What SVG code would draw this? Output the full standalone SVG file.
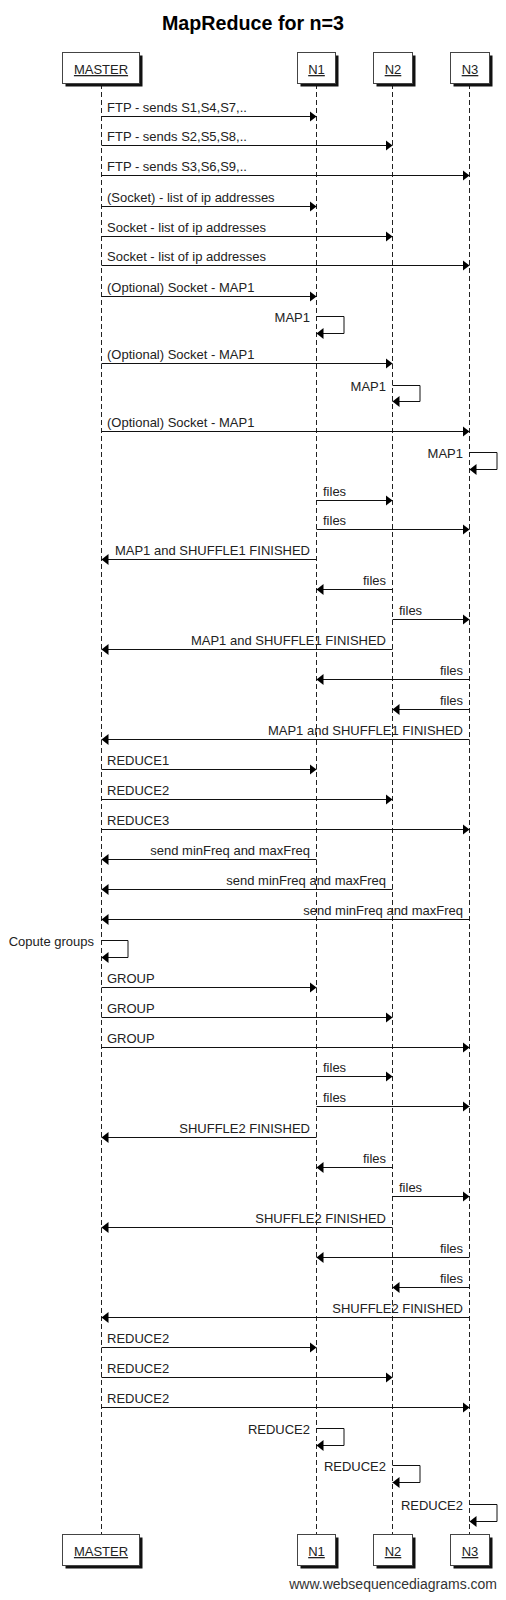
<svg xmlns="http://www.w3.org/2000/svg" width="506" height="1600" viewBox="0 0 506 1600">
<style>
text{font-family:"Liberation Sans",Arial,sans-serif;fill:#222}
.t{font-size:19.7px;font-weight:bold;fill:#000}
.m{font-size:13px}
.e{text-anchor:end}
.p{font-size:13px;text-anchor:middle;text-decoration:underline}
.f{font-size:14px;text-anchor:end;fill:#333}
.life{stroke:#222;stroke-width:1;stroke-dasharray:5,3;fill:none}
.box{fill:#fff;stroke:#444;stroke-width:1}
.sh{fill:#111}
.msg{stroke:#111;stroke-width:1;fill:none;marker-end:url(#ah)}
</style>
<defs>
<marker id="ah" markerUnits="userSpaceOnUse" markerWidth="8" markerHeight="12" refX="7" refY="5.5" orient="auto">
<path d="M0,0 L7,5.5 L0,11 z" fill="#000"/>
</marker>
</defs>
<text class="t" x="253" y="30" text-anchor="middle">MapReduce for n=3</text>
<g id="MASTER">
<line class="life" x1="101.5" y1="84" x2="101.5" y2="1534"/>
<rect class="sh" x="65.5" y="55.5" width="77" height="31"/>
<rect class="box" x="62.5" y="52.5" width="77" height="31"/>
<text class="p" x="101" y="74">MASTER</text>
<rect class="sh" x="65.5" y="1537.5" width="77" height="31"/>
<rect class="box" x="62.5" y="1534.5" width="77" height="31"/>
<text class="p" x="101" y="1556">MASTER</text>
</g>
<g id="N1">
<line class="life" x1="316.5" y1="84" x2="316.5" y2="1534"/>
<rect class="sh" x="300.5" y="55.5" width="38" height="31"/>
<rect class="box" x="297.5" y="52.5" width="38" height="31"/>
<text class="p" x="316.5" y="74">N1</text>
<rect class="sh" x="300.5" y="1537.5" width="38" height="31"/>
<rect class="box" x="297.5" y="1534.5" width="38" height="31"/>
<text class="p" x="316.5" y="1556">N1</text>
</g>
<g id="N2">
<line class="life" x1="392.5" y1="84" x2="392.5" y2="1534"/>
<rect class="sh" x="376.5" y="55.5" width="39" height="31"/>
<rect class="box" x="373.5" y="52.5" width="39" height="31"/>
<text class="p" x="393" y="74">N2</text>
<rect class="sh" x="376.5" y="1537.5" width="39" height="31"/>
<rect class="box" x="373.5" y="1534.5" width="39" height="31"/>
<text class="p" x="393" y="1556">N2</text>
</g>
<g id="N3">
<line class="life" x1="469.5" y1="84" x2="469.5" y2="1534"/>
<rect class="sh" x="453.5" y="55.5" width="39" height="31"/>
<rect class="box" x="450.5" y="52.5" width="39" height="31"/>
<text class="p" x="470" y="74">N3</text>
<rect class="sh" x="453.5" y="1537.5" width="39" height="31"/>
<rect class="box" x="450.5" y="1534.5" width="39" height="31"/>
<text class="p" x="470" y="1556">N3</text>
</g>
<g id="connectors">
<path class="msg" d="M101.5,116.5H316.5"/><text class="m" x="107" y="112">FTP - sends S1,S4,S7,..</text>
<path class="msg" d="M101.5,145.5H392.5"/><text class="m" x="107" y="141">FTP - sends S2,S5,S8,..</text>
<path class="msg" d="M101.5,175.5H469.5"/><text class="m" x="107" y="171">FTP - sends S3,S6,S9,..</text>
<path class="msg" d="M101.5,206.5H316.5"/><text class="m" x="107" y="202">(Socket) - list of ip addresses</text>
<path class="msg" d="M101.5,236.5H392.5"/><text class="m" x="107" y="232">Socket - list of ip addresses</text>
<path class="msg" d="M101.5,265.5H469.5"/><text class="m" x="107" y="261">Socket - list of ip addresses</text>
<path class="msg" d="M101.5,296.5H316.5"/><text class="m" x="107" y="292">(Optional) Socket - MAP1</text>
<path class="msg" d="M316.5,316.5H344V333.5H316.5"/><text class="m e" x="310" y="322">MAP1</text>
<path class="msg" d="M101.5,363.5H392.5"/><text class="m" x="107" y="359">(Optional) Socket - MAP1</text>
<path class="msg" d="M392.5,385.5H420V401.5H392.5"/><text class="m e" x="386" y="391">MAP1</text>
<path class="msg" d="M101.5,431.5H469.5"/><text class="m" x="107" y="427">(Optional) Socket - MAP1</text>
<path class="msg" d="M469.5,452.5H497V469.5H469.5"/><text class="m e" x="463" y="458">MAP1</text>
<path class="msg" d="M316.5,500.5H392.5"/><text class="m" x="323" y="496">files</text>
<path class="msg" d="M316.5,529.5H469.5"/><text class="m" x="323" y="525">files</text>
<path class="msg" d="M316.5,559.5H101.5"/><text class="m e" x="310" y="555">MAP1 and SHUFFLE1 FINISHED</text>
<path class="msg" d="M392.5,589.5H316.5"/><text class="m e" x="386" y="585">files</text>
<path class="msg" d="M392.5,619.5H469.5"/><text class="m" x="399" y="615">files</text>
<path class="msg" d="M392.5,649.5H101.5"/><text class="m e" x="386" y="645">MAP1 and SHUFFLE1 FINISHED</text>
<path class="msg" d="M469.5,679.5H316.5"/><text class="m e" x="463" y="675">files</text>
<path class="msg" d="M469.5,709.5H392.5"/><text class="m e" x="463" y="705">files</text>
<path class="msg" d="M469.5,739.5H101.5"/><text class="m e" x="463" y="735">MAP1 and SHUFFLE1 FINISHED</text>
<path class="msg" d="M101.5,769.5H316.5"/><text class="m" x="107" y="765">REDUCE1</text>
<path class="msg" d="M101.5,799.5H392.5"/><text class="m" x="107" y="795">REDUCE2</text>
<path class="msg" d="M101.5,829.5H469.5"/><text class="m" x="107" y="825">REDUCE3</text>
<path class="msg" d="M316.5,859.5H101.5"/><text class="m e" x="310" y="855">send minFreq and maxFreq</text>
<path class="msg" d="M392.5,889.5H101.5"/><text class="m e" x="386" y="885">send minFreq and maxFreq</text>
<path class="msg" d="M469.5,919.5H101.5"/><text class="m e" x="463" y="915">send minFreq and maxFreq</text>
<path class="msg" d="M101.5,940.5H128V957.5H101.5"/><text class="m e" x="94" y="946">Copute groups</text>
<path class="msg" d="M101.5,987.5H316.5"/><text class="m" x="107" y="983">GROUP</text>
<path class="msg" d="M101.5,1017.5H392.5"/><text class="m" x="107" y="1013">GROUP</text>
<path class="msg" d="M101.5,1047.5H469.5"/><text class="m" x="107" y="1043">GROUP</text>
<path class="msg" d="M316.5,1076.5H392.5"/><text class="m" x="323" y="1072">files</text>
<path class="msg" d="M316.5,1106.5H469.5"/><text class="m" x="323" y="1102">files</text>
<path class="msg" d="M316.5,1137.5H101.5"/><text class="m e" x="310" y="1133">SHUFFLE2 FINISHED</text>
<path class="msg" d="M392.5,1167.5H316.5"/><text class="m e" x="386" y="1163">files</text>
<path class="msg" d="M392.5,1196.5H469.5"/><text class="m" x="399" y="1192">files</text>
<path class="msg" d="M392.5,1227.5H101.5"/><text class="m e" x="386" y="1223">SHUFFLE2 FINISHED</text>
<path class="msg" d="M469.5,1257.5H316.5"/><text class="m e" x="463" y="1253">files</text>
<path class="msg" d="M469.5,1287.5H392.5"/><text class="m e" x="463" y="1283">files</text>
<path class="msg" d="M469.5,1317.5H101.5"/><text class="m e" x="463" y="1313">SHUFFLE2 FINISHED</text>
<path class="msg" d="M101.5,1347.5H316.5"/><text class="m" x="107" y="1343">REDUCE2</text>
<path class="msg" d="M101.5,1377.5H392.5"/><text class="m" x="107" y="1373">REDUCE2</text>
<path class="msg" d="M101.5,1407.5H469.5"/><text class="m" x="107" y="1403">REDUCE2</text>
<path class="msg" d="M316.5,1428.5H344V1445.5H316.5"/><text class="m e" x="310" y="1434">REDUCE2</text>
<path class="msg" d="M392.5,1465.5H420V1482.5H392.5"/><text class="m e" x="386" y="1471">REDUCE2</text>
<path class="msg" d="M469.5,1504.5H497V1521.5H469.5"/><text class="m e" x="463" y="1510">REDUCE2</text>
</g>
<text class="f" x="497" y="1589">www.websequencediagrams.com</text>
</svg>
